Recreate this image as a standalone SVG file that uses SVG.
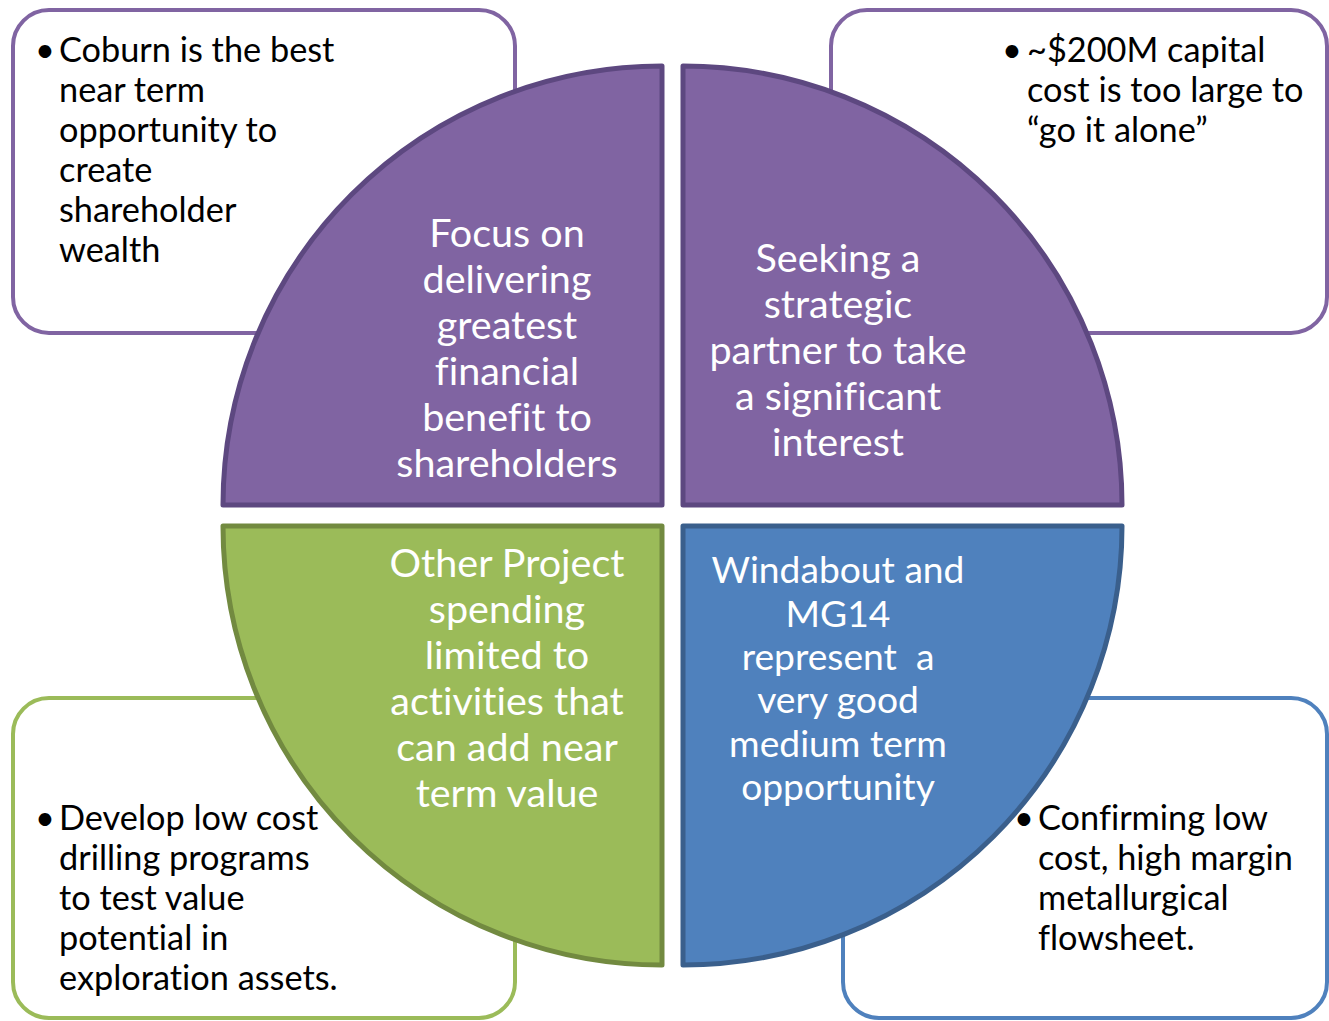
<svg xmlns="http://www.w3.org/2000/svg" width="1329" height="1021" viewBox="0 0 1329 1021">
  <style>
    .box { fill: #FFFFFF; stroke-width: 4; }
    .bp { stroke: #8064A2; }
    .bg { stroke: #9BBB59; }
    .bb { stroke: #4F81BD; }
    .bt { font-family: Lato, "Liberation Sans", sans-serif; font-size: 34.3px; fill: #000000; font-variant-ligatures: none; }
    .pie { stroke-width: 5; stroke-linejoin: round; }
    .pp { fill: #8064A2; stroke: #5D4880; }
    .pg { fill: #9BBB59; stroke: #728A40; }
    .pb { fill: #4F81BD; stroke: #3A5F8C; }
    .pt { font-family: Lato, "Liberation Sans", sans-serif; font-size: 39.5px; fill: #FFFFFF; text-anchor: middle; font-variant-ligatures: none; }
  </style>
  <rect width="1329" height="1021" fill="#FFFFFF"/>

  <g id="box-top-left">
    <rect class="box bp" x="13" y="10" width="502" height="323" rx="36" ry="36"/>
    <text class="bt" x="35" y="61.5">•</text>
    <text class="bt">
      <tspan x="59" y="61.5">Coburn is the best</tspan>
      <tspan x="59" y="101.5">near term</tspan>
      <tspan x="59" y="141.5">opportunity to</tspan>
      <tspan x="59" y="181.5">create</tspan>
      <tspan x="59" y="221.5">shareholder</tspan>
      <tspan x="59" y="261.5">wealth</tspan>
    </text>
  </g>

  <g id="box-top-right">
    <rect class="box bp" x="831" y="10" width="496" height="323" rx="36" ry="36"/>
    <text class="bt" x="1002" y="61.5">•</text>
    <text class="bt">
      <tspan x="1027" y="61.5">~$200M capital</tspan>
      <tspan x="1027" y="101.5">cost is too large to</tspan>
      <tspan x="1027" y="141.5">“go it alone”</tspan>
    </text>
  </g>

  <g id="box-bottom-left">
    <rect class="box bg" x="13" y="698" width="502" height="320" rx="36" ry="36"/>
    <text class="bt" x="35" y="830">•</text>
    <text class="bt">
      <tspan x="59" y="830">Develop low cost</tspan>
      <tspan x="59" y="870">drilling programs</tspan>
      <tspan x="59" y="910">to test value</tspan>
      <tspan x="59" y="950">potential in</tspan>
      <tspan x="59" y="990">exploration assets.</tspan>
    </text>
  </g>

  <g id="box-bottom-right">
    <rect class="box bb" x="843" y="698" width="484" height="320" rx="36" ry="36"/>
    <text class="bt" x="1014" y="830">•</text>
    <text class="bt">
      <tspan x="1038" y="830">Confirming low</tspan>
      <tspan x="1038" y="870">cost, high margin</tspan>
      <tspan x="1038" y="910">metallurgical</tspan>
      <tspan x="1038" y="950">flowsheet.</tspan>
    </text>
  </g>

  <g id="pie-top-left">
    <path class="pie pp" d="M662,505 L223,505 A439,439 0 0 1 662,66 Z"/>
    <text class="pt"><tspan x="507" y="247">Focus on</tspan><tspan x="507" y="293">delivering</tspan><tspan x="507" y="339">greatest</tspan><tspan x="507" y="385">financial</tspan><tspan x="507" y="431">benefit to</tspan><tspan x="507" y="477">shareholders</tspan></text>
  </g>

  <g id="pie-top-right">
    <path class="pie pp" d="M683,505 L683,66 A439,439 0 0 1 1122,505 Z"/>
    <text class="pt"><tspan x="838" y="271.5">Seeking a</tspan><tspan x="838" y="317.5">strategic</tspan><tspan x="838" y="363.5">partner to take</tspan><tspan x="838" y="409.5">a significant</tspan><tspan x="838" y="455.5">interest</tspan></text>
  </g>

  <g id="pie-bottom-left">
    <path class="pie pg" d="M662,526 L662,965 A439,439 0 0 1 223,526 Z"/>
    <text class="pt"><tspan x="507" y="577">Other Project</tspan><tspan x="507" y="623">spending</tspan><tspan x="507" y="669">limited to</tspan><tspan x="507" y="715">activities that</tspan><tspan x="507" y="761">can add near</tspan><tspan x="507" y="807">term value</tspan></text>
  </g>

  <g id="pie-bottom-right">
    <path class="pie pb" d="M683,526 L1122,526 A439,439 0 0 1 683,965 Z"/>
    <text class="pt" style="font-size:37.2px"><tspan x="838" y="583">Windabout and</tspan><tspan x="838" y="627">MG14</tspan><tspan x="838" y="670" xml:space="preserve">represent  a</tspan><tspan x="838" y="713">very good</tspan><tspan x="838" y="757">medium term</tspan><tspan x="838" y="800">opportunity</tspan></text>
  </g>

  <g id="connectors"></g>
</svg>
